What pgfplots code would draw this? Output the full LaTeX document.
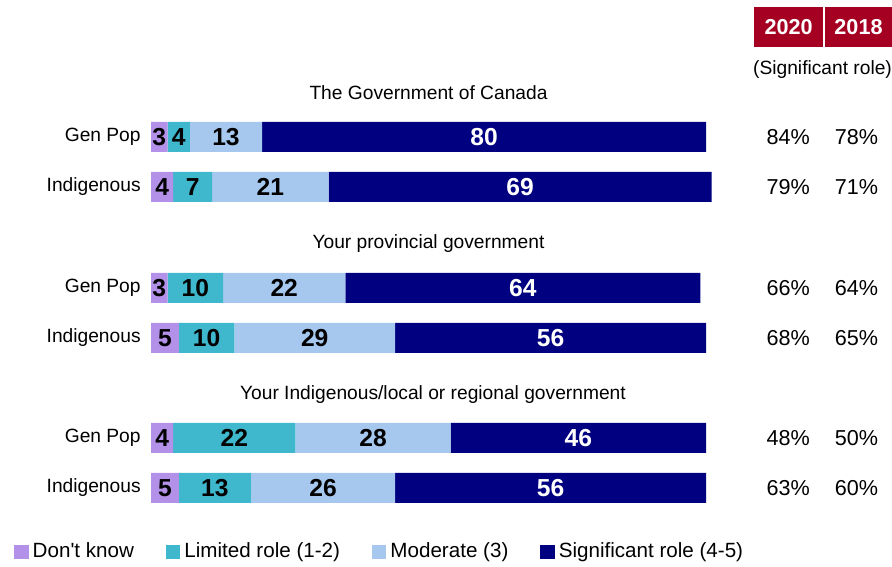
\documentclass[border=0pt]{standalone}
\usepackage{fontspec}
\setmainfont{Liberation Sans}
\usepackage{pgfplots}
\usepackage{pgfplotstable}
\pgfplotsset{compat=1.18}
\definecolor{dontknow}{HTML}{B491E8}
\definecolor{limited}{HTML}{3FB7CD}
\definecolor{moderate}{HTML}{A6C8EE}
\definecolor{significant}{HTML}{000080}
\definecolor{headred}{HTML}{A50021}

% y position of each bar (px from top), shares per answer
\pgfplotstableread{
pos dk lim mod sig
137 3 4 13 80
187 4 7 21 69
288 3 10 22 64
338 5 10 29 56
438 4 22 28 46
488 5 13 26 56
}\roles

\tikzset{
  txt/.style={inner sep=0pt, font=\fontsize{9.6}{11}\selectfont},
  pct/.style={inner sep=0pt, font=\fontsize{10.8}{12}\selectfont},
  yearbox/.style={fill=headred, text=white, inner sep=0pt, minimum height=20pt,
    font=\fontsize{10.8}{12}\selectfont\bfseries},
}

\begin{document}
\begin{tikzpicture}
\begin{axis}[
  width=446pt, height=283.5pt, scale only axis,
  xmin=-27.21, xmax=133.51, ymin=0, ymax=567, y dir=reverse,
  axis lines=none, ticks=none, clip=false,
  xbar stacked, bar width=15pt,
  nodes near coords,
  point meta=explicit symbolic,
  nodes near coords style={font=\fontsize{12.3}{13}\selectfont\bfseries, anchor=center},
  legend image code/.code={\draw[#1,draw=none] (0pt,-3.6pt) rectangle (7.2pt,3.6pt);},
  legend style={at={(axis cs:-24.7,552)}, anchor=west, draw=none, fill=none,
    inner sep=0pt, font=\fontsize{10.3}{12}\selectfont, legend columns=4,
    /tikz/every even column/.append style={column sep=14pt}},
  legend cell align=left,
]
% invisible frame so the page is the full chart area
\path (axis cs:-27.21,0) rectangle (axis cs:133.51,567);

\addplot[fill=dontknow, draw=none] table[x=dk, y=pos, meta=dk] {\roles};
\addplot[fill=limited, draw=none] table[x=lim, y=pos, meta=lim] {\roles};
\addplot[fill=moderate, draw=none] table[x=mod, y=pos, meta=mod] {\roles};
\addplot[fill=significant, draw=none, every node near coord/.append style={text=white}] table[x=sig, y=pos, meta=sig] {\roles};
\legend{Don\textquotesingle t know, Limited role (1-2), Moderate (3), Significant role (4-5)}

% group headings
\node[txt] at (axis cs:50,93) {The Government of Canada};
\node[txt] at (axis cs:50,244) {Your provincial government};
\node[txt] at (axis cs:50.8,395) {Your Indigenous/local or regional government};

% row labels
\node[txt, anchor=east] at (axis cs:-1.8,137) {Gen Pop};
\node[txt, anchor=east] at (axis cs:-1.8,187) {Indigenous};
\node[txt, anchor=east] at (axis cs:-1.8,288) {Gen Pop};
\node[txt, anchor=east] at (axis cs:-1.8,338) {Indigenous};
\node[txt, anchor=east] at (axis cs:-1.8,438) {Gen Pop};
\node[txt, anchor=east] at (axis cs:-1.8,488) {Indigenous};

% year header boxes
\node[yearbox, minimum width=34.5pt] at (axis cs:114.87,27) {2020};
\node[yearbox, minimum width=33.5pt] at (axis cs:127.48,27) {2018};
\node[txt] at (axis cs:121.0,70) {(Significant role)};

% significant role, 2020 and 2018
\node[pct] at (axis cs:114.8,137) {84\%};  \node[pct] at (axis cs:127.1,137) {78\%};
\node[pct] at (axis cs:114.8,187) {79\%};  \node[pct] at (axis cs:127.1,187) {71\%};
\node[pct] at (axis cs:114.8,288) {66\%};  \node[pct] at (axis cs:127.1,288) {64\%};
\node[pct] at (axis cs:114.8,338) {68\%};  \node[pct] at (axis cs:127.1,338) {65\%};
\node[pct] at (axis cs:114.8,438) {48\%};  \node[pct] at (axis cs:127.1,438) {50\%};
\node[pct] at (axis cs:114.8,488) {63\%};  \node[pct] at (axis cs:127.1,488) {60\%};
\end{axis}
\end{tikzpicture}
\end{document}
